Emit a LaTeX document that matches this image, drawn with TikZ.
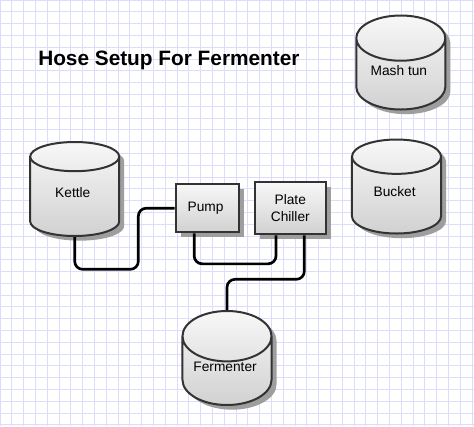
\documentclass[tikz,border=0pt]{standalone}
\usepackage{fontspec}
\setmainfont{Liberation Sans}
\usetikzlibrary{shapes.geometric,shadows}
\usepackage{xcolor}
\definecolor{gridblue}{RGB}{220,220,252}
\definecolor{edgegray}{RGB}{51,51,51}

\begin{document}
\begin{tikzpicture}[x=0.75pt, y=0.75pt,
    every node/.style={
    font=\fontsize{10.3}{12.4}\selectfont,
    align=center
},
    part/.style={
    draw=edgegray,
    line width=1.5pt,
    fill=white,
    path picture={\shade[top color=black!3, bottom color=black!18] (path picture bounding box.north west) rectangle (path picture bounding box.south east);},
    drop shadow={shadow xshift=3.75pt, shadow yshift=-3.5pt, fill=black!38, opacity=1}
},
    tank/.style={part, cylinder, shape border rotate=90, aspect=0.75, minimum width=66.8pt, minimum height=70.5pt, inner sep=0pt, text depth=6pt, anchor=shape center},
    box/.style={part, rectangle, inner sep=0pt},
    hose/.style={line width=2pt, rounded corners=6pt}
]
    \useasboundingbox (0,0) rectangle (474,-426);
    \fill[white] (0,0) rectangle (474,-426);
    \draw[gridblue, line width=0.75pt, step=8.85pt] (0,-426) grid (474,0);

    \node (title) [font=\fontsize{15.6}{18}\selectfont\bfseries, anchor=west, inner sep=0pt, shift={(38, -60)}]
	{
		Hose Setup For Fermenter
	};

	%tanks

	\node (kettle) [tank, shift={(74.7, -189)}]
	{
		Kettle
	};
	\node (mash_tun) [tank, shift={(400.8, -62.5)}]
	{
		Mash tun
	};
	\node (bucket) [tank, shift={(396.5, -186.5)}]
	{
		Bucket
	};
    \node (fermenter) [tank, shift={(227, -358)}]
    {
        Fermenter
    };

    %hoses

    \node (pump) [box, minimum width=47.7pt, minimum height=36.2pt, shift={(207.5, -208.2)}]
    {
        Pump
    };
    \node (plate_chiller) [box, minimum width=53pt, minimum height=39pt, shift={(290.3, -208.3)}]
    {
        Plate\\ Chiller
    };




    \draw[hose] (kettle.bottom) |- (138.3, -269.3) |- (pump.west);
    \draw[hose] ([xshift=-10pt]pump.south) -- ++(0, -30.5) -| ([xshift=-10.7pt]plate_chiller.south);
    \draw[hose] ([xshift=10.5pt]plate_chiller.south) -- ++(0, -44) -| (fermenter.top);



\end{tikzpicture}
\end{document}
